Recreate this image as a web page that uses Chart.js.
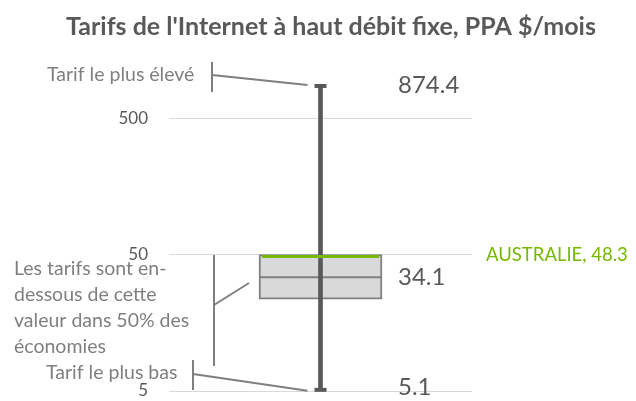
<!DOCTYPE html>
<html>
<head>
<meta charset="utf-8">
<script src="https://cdn.jsdelivr.net/npm/chart.js@4.4.1/dist/chart.umd.min.js"></script>
<style>
  html, body { margin: 0; padding: 0; background: #fff; }
  canvas { display: block; }
</style>
</head>
<body>
<canvas id="mainChart" width="636" height="401"></canvas>
<script>
// Data
const categories = [''];
const minValues = [5.1];
const q1Values = [23.5];
const medianValues = [34.1];
const q3Values = [50];
const maxValues = [874.4];
const highlightNames = ['AUSTRALIE'];
const highlightValues = [48.3];
const yTickValues = [5, 50, 500];

const titleText = "Tarifs de l'Internet à haut débit fixe, PPA $/mois";
const FONT = 'Lato, "Open Sans", sans-serif';

// Title, median, caps, value labels and the explanatory notes
const boxDecor = {
    id: 'boxDecor',
    afterDatasetDraw(chart, args) {
        if (args.index !== 1) return;
        const ctx = chart.ctx;
        const y = chart.scales.y;
        const box = chart.getDatasetMeta(1).data[0];
        const left = box.x - box.width / 2;
        const right = box.x + box.width / 2;
        ctx.save();
        ctx.strokeStyle = '#808080';
        ctx.lineWidth = 2;
        ctx.beginPath();
        ctx.moveTo(left + 1, y.getPixelForValue(medianValues[0]));
        ctx.lineTo(right - 1, y.getPixelForValue(medianValues[0]));
        ctx.stroke();
        ctx.restore();
    },
    afterDatasetsDraw(chart) {
        const ctx = chart.ctx;
        const y = chart.scales.y;
        const box = chart.getDatasetMeta(1).data[0];
        const cx = box.x;
        const left = cx - box.width / 2;
        const right = cx + box.width / 2;
        const yMax = y.getPixelForValue(maxValues[0]);
        const yMin = y.getPixelForValue(minValues[0]);
        const yMed = y.getPixelForValue(medianValues[0]);
        const yHi = y.getPixelForValue(highlightValues[0]);

        ctx.save();
        // whisker caps
        ctx.fillStyle = '#595959';
        ctx.fillRect(cx - 6, yMax - 1, 12, 4);
        ctx.fillRect(cx - 6, yMin - 2, 12, 4);

        // highlighted economy
        ctx.strokeStyle = '#76B900';
        ctx.lineWidth = 3;
        ctx.beginPath();
        ctx.moveTo(left + 3, yHi);
        ctx.lineTo(right - 3, yHi);
        ctx.stroke();

        // value labels
        ctx.textBaseline = 'middle';
        ctx.textAlign = 'left';
        ctx.fillStyle = '#595959';
        ctx.font = '24px ' + FONT;
        ctx.fillText(maxValues[0].toFixed(1), right + 16, yMax);
        ctx.fillText(medianValues[0].toFixed(1), right + 16, yMed);
        ctx.fillText(minValues[0].toFixed(1), right + 16, yMin - 3);

        ctx.fillStyle = '#76B900';
        ctx.font = '18.5px ' + FONT;
        ctx.fillText(highlightNames[0] + ', ' + highlightValues[0].toFixed(1), 486, yHi - 2);

        // title
        ctx.fillStyle = '#595959';
        ctx.textAlign = 'center';
        ctx.font = 'bold 25px ' + FONT;
        ctx.fillText(titleText, 331, 27);

        // notes
        ctx.fillStyle = '#7f7f7f';
        ctx.font = '19.5px ' + FONT;
        ctx.textAlign = 'left';
        ctx.fillText('Tarif le plus élevé', 47, 75);
        ctx.fillText('Tarif le plus bas', 46, 373);
        ['Les tarifs sont en-', 'dessous de cette', 'valeur dans 50% des', 'économies']
            .forEach((line, i) => ctx.fillText(line, 14, 269 + i * 26));

        ctx.strokeStyle = '#7f7f7f';
        ctx.lineWidth = 2;
        ctx.beginPath();
        // top bracket
        ctx.moveTo(212, 62); ctx.lineTo(212, 92);
        ctx.moveTo(212, 75); ctx.lineTo(cx - 13, yMax);
        // middle bracket
        ctx.moveTo(214, 255); ctx.lineTo(214, 366);
        ctx.moveTo(214, 305); ctx.lineTo(249, 283);
        // bottom bracket
        ctx.moveTo(193, 360); ctx.lineTo(193, 390);
        ctx.moveTo(193, 374); ctx.lineTo(cx - 13, yMin + 1);
        ctx.stroke();
        ctx.restore();
    }
};

const ctx = document.getElementById('mainChart').getContext('2d');
new Chart(ctx, {
    type: 'bar',
    data: {
        labels: categories,
        datasets: [{
            label: 'Min-Max',
            data: categories.map((c, i) => [minValues[i], maxValues[i]]),
            backgroundColor: '#595959',
            barThickness: 4,
            grouped: false,
            borderSkipped: false
        }, {
            label: 'Quartiles',
            data: categories.map((c, i) => [q1Values[i], q3Values[i]]),
            backgroundColor: '#d9d9d9',
            borderColor: '#808080',
            borderWidth: 2,
            barThickness: 123,
            grouped: false,
            borderSkipped: false
        }]
    },
    options: {
        responsive: false,
        animation: false,
        layout: { padding: { top: 77, bottom: 10, left: 0, right: 164 } },
        plugins: {
            legend: { display: false },
            tooltip: { enabled: false },
            title: { display: false }
        },
        scales: {
            x: { display: false },
            y: {
                type: 'logarithmic',
                min: 5,
                max: 1000,
                border: { display: false },
                grid: { color: '#d9d9d9', lineWidth: 1, drawTicks: false },
                ticks: {
                    color: '#595959',
                    padding: 21,
                    font: { family: FONT, size: 17 },
                    callback: v => String(v)
                },
                afterBuildTicks: axis => {
                    axis.ticks = yTickValues.map(v => ({ value: v }));
                },
                afterFit: axis => {
                    axis.width = 169;
                    axis.paddingTop = 0;
                    axis.paddingBottom = 0;
                }
            }
        }
    },
    plugins: [boxDecor]
});
</script>
</body>
</html>
